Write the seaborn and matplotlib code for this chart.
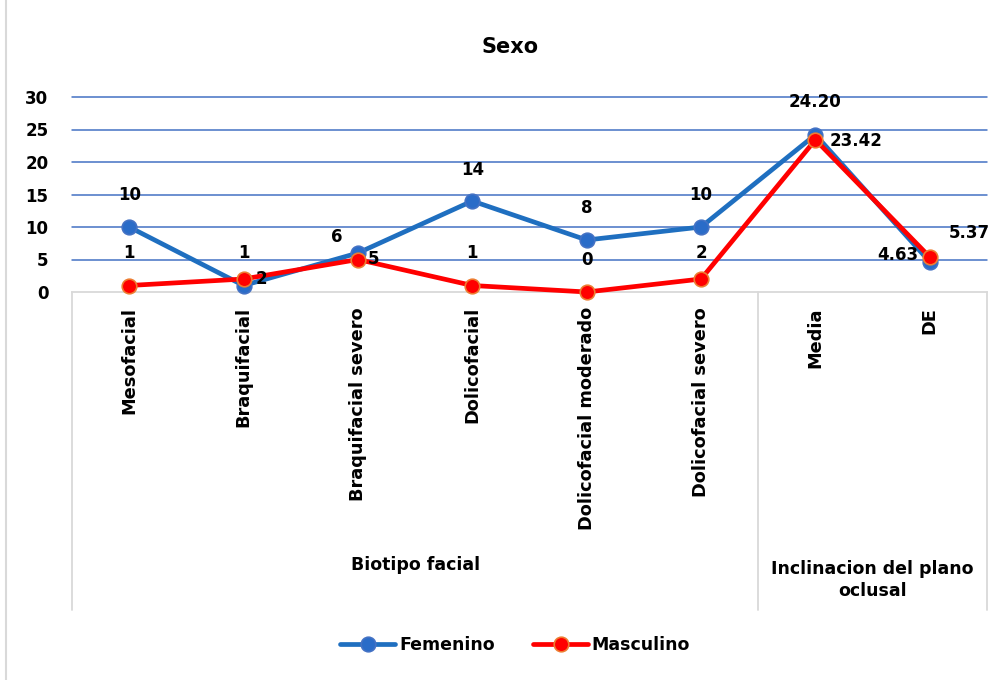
import matplotlib
matplotlib.use("Agg")
import matplotlib.pyplot as plt
from matplotlib.lines import Line2D
import seaborn as sns
import pandas as pd
import numpy as np

categorias = ["Mesofacial", "Braquifacial", "Braquifacial severo", "Dolicofacial",
              "Dolicofacial moderado", "Dolicofacial severo", "Media", "DE"]
femenino = [10, 1, 6, 14, 8, 10, 24.20, 4.63]
masculino = [1, 2, 5, 1, 0, 2, 23.42, 5.37]
etiquetas_fem = ["10", "1", "6", "14", "8", "10", "24.20", "4.63"]
etiquetas_mas = ["1", "2", "5", "1", "0", "2", "23.42", "5.37"]
grupos = ["Biotipo facial", "Inclinacion del plano\noclusal"]
grupo_tamanos = [6, 2]
y_ticks = [0, 5, 10, 15, 20, 25, 30]

# label offsets in pixels (style)
off_fem = [(0, 32), (0, 32), (-21, 16), (0, 31), (0, 32), (0, 32), (0, 33), (-32, 7)]
off_mas = [(0, 33), (18, 0), (16, 0), (0, 33), (0, 32), (0, 26), (41, -1), (39, 24)]

sns.set_theme(style="white")
plt.rcParams['font.family'] = ['DejaVu Sans']
plt.rcParams['font.weight'] = 'bold'
plt.rcParams['text.color'] = 'black'
plt.rcParams['ytick.color'] = 'black'
plt.rcParams['ytick.labelcolor'] = 'black'

W, H = 1006, 680
fig = plt.figure(figsize=(W / 100, H / 100), dpi=100)
x0, x1, ytop, ybot = 72, 987, 97, 292
ax = fig.add_axes([x0 / W, (H - ybot) / H, (x1 - x0) / W, (ybot - ytop) / H])

pos = np.arange(len(categorias))
df = pd.DataFrame({
    "pos": np.concatenate([pos, pos]),
    "valor": femenino + masculino,
    "Sexo": ["Femenino"] * len(pos) + ["Masculino"] * len(pos),
})

c_fem, c_fem_m, c_fem_e = "#1f6fc0", "#2a6cc8", "#4472C4"
c_mas, c_mas_e = "#FF0000", "#ED7D31"

sns.lineplot(data=df[df.Sexo == "Femenino"], x="pos", y="valor", ax=ax, color=c_fem,
             linewidth=3.4, marker="o", markersize=10.5, markerfacecolor=c_fem_m,
             markeredgecolor=c_fem_e, markeredgewidth=1.2, clip_on=False, zorder=4,
             legend=False)
sns.lineplot(data=df[df.Sexo == "Masculino"], x="pos", y="valor", ax=ax, color=c_mas,
             linewidth=3.4, marker="o", markersize=10.5, markerfacecolor=c_mas,
             markeredgecolor=c_mas_e, markeredgewidth=1.2, clip_on=False, zorder=5,
             legend=False)

ax.set_xlim(-0.5, len(categorias) - 0.5)
ax.set_ylim(0, 30)
ax.set_yticks(y_ticks)
ax.set_yticklabels([str(t) for t in y_ticks], fontsize=12, fontweight='bold',
                   color='black')
ax.tick_params(axis='y', length=0, pad=17)
ax.set_xticks([])
ax.set_xlabel("")
ax.set_ylabel("")
for t in y_ticks[1:]:
    ax.axhline(t, color="#4472C4", linewidth=1.1, zorder=1, clip_on=False)
for s in ["top", "right", "left"]:
    ax.spines[s].set_visible(False)
ax.spines["bottom"].set_color("#D9D9D9")
ax.spines["bottom"].set_linewidth(1.3)

for i in range(len(categorias)):
    ax.annotate(etiquetas_fem[i], (pos[i], femenino[i]), xytext=off_fem[i],
                textcoords='offset pixels', ha='center', va='center', fontsize=12,
                fontweight='bold', color='black', zorder=6, annotation_clip=False)
    ax.annotate(etiquetas_mas[i], (pos[i], masculino[i]), xytext=off_mas[i],
                textcoords='offset pixels', ha='center', va='center', fontsize=12,
                fontweight='bold', color='black', zorder=6, annotation_clip=False)

# category labels (rotated)
trans = ax.get_xaxis_transform()
def py(px):
    # figure-pixel y to axes y
    return (ybot - px) / (ybot - ytop)

for i, c in enumerate(categorias):
    ax.text(pos[i], py(307), c, rotation=90, ha='center', va='top', fontsize=12.8,
            fontweight='bold', color='black', transform=trans, clip_on=False)

# group separators and labels
bounds = np.concatenate([[0], np.cumsum(grupo_tamanos)]) - 0.5
for b in bounds:
    ax.plot([b, b], [py(ybot), py(610)], color="#D9D9D9", linewidth=1.3,
            transform=trans, clip_on=False)
for g, (a, b) in zip(grupos, zip(bounds[:-1], bounds[1:])):
    yc = 565 if "\n" not in g else 580
    ax.text((a + b) / 2, py(yc), g, ha='center', va='center', fontsize=12.5,
            fontweight='bold', color='black', transform=trans, clip_on=False,
            linespacing=1.35)

# title
fig.text(510 / W, 1 - 47 / H, "Sexo", ha='center', va='center', fontsize=15,
         fontweight='bold', color='black')

# chart border (left edge)
fig.add_artist(Line2D([6 / W, 6 / W], [0, 1], color="#D9D9D9", linewidth=1.5,
                      transform=fig.transFigure))

handles = [
    Line2D([], [], color=c_fem, linewidth=3.4, marker='o', markersize=10.5,
           markerfacecolor=c_fem_m, markeredgecolor=c_fem_e, markeredgewidth=1.2),
    Line2D([], [], color=c_mas, linewidth=3.4, marker='o', markersize=10.5,
           markerfacecolor=c_mas, markeredgecolor=c_mas_e, markeredgewidth=1.2),
]
leg = fig.legend(handles, ["Femenino", "Masculino"], loc='center', ncol=2,
                 bbox_to_anchor=(515 / W, 1 - 645 / H), frameon=False,
                 prop={'size': 12.5, 'weight': 'bold'}, handlelength=3.2,
                 handletextpad=0.2, columnspacing=2.2)
for t in leg.get_texts():
    t.set_color('black')

fig.savefig("out.png", dpi=100, facecolor='white')
